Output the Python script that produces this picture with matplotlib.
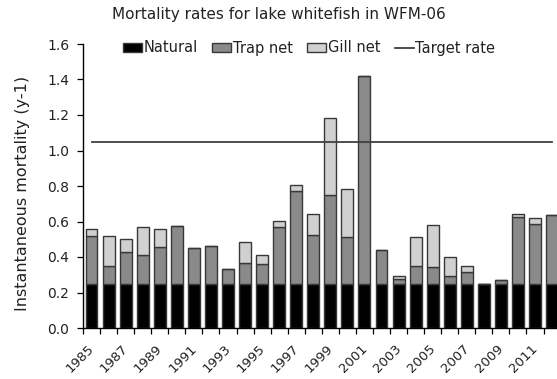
import matplotlib
matplotlib.use("Agg")
import matplotlib.pyplot as plt
import matplotlib.transforms as mtransforms
import numpy as np

years = list(range(1985, 2013))
natural = [0.25] * 28
# cumulative tops
trap_top = [0.52, 0.35, 0.43, 0.41, 0.455, 0.576, 0.452, 0.462, 0.334, 0.368,
            0.36, 0.571, 0.774, 0.524, 0.749, 0.511, 1.421, 0.438, 0.274, 0.35,
            0.342, 0.295, 0.317, 0.25, 0.27, 0.623, 0.584, 0.635]
total_top = [0.558, 0.52, 0.50, 0.567, 0.556, 0.576, 0.452, 0.462, 0.334, 0.483,
             0.41, 0.605, 0.806, 0.642, 1.181, 0.785, 1.421, 0.438, 0.293, 0.515,
             0.578, 0.398, 0.349, 0.25, 0.27, 0.642, 0.62, 0.635]
trap_net = [t - n for t, n in zip(trap_top, natural)]
gill_net = [a - t for a, t in zip(total_top, trap_top)]
target_rate = 1.05

plt.rcParams['font.family'] = ['DejaVu Sans']

fig = plt.figure(figsize=(5.57, 3.79), dpi=100)
ax = fig.add_axes([83/557, (379-328)/379, (560.6-83)/557, (328-44)/379])

x = np.arange(len(years))
w = 0.7
ec = '#383838'
lw = 1.0
h1 = ax.bar(x, natural, w, color='black', edgecolor=ec, linewidth=lw, label='Natural')
h2 = ax.bar(x, trap_net, w, bottom=natural, color='#8a8a8a', edgecolor=ec, linewidth=lw, label='Trap net')
h3 = ax.bar(x, gill_net, w, bottom=trap_top, color='#d0d0d0', edgecolor=ec, linewidth=lw, label='Gill net')
h4, = ax.plot(x, [target_rate] * len(x), color='#404040', linewidth=1.3, label='Target rate')

ax.set_xlim(-0.5, len(years) - 0.5)
ax.set_ylim(0, 1.6)
yt = np.arange(0, 1.61, 0.2)
ax.set_yticks(yt)
ax.set_yticklabels([f"{v:.1f}" for v in yt], fontsize=10, color='#222222')
ax.tick_params(axis='y', direction='out', length=4, width=0.9, pad=6)

ax.set_xticks(x[::2])
ax.set_xticklabels([str(y) for y in years[::2]], rotation=45, ha='right',
                   rotation_mode='anchor', fontsize=9.5, color='#222222')
ax.tick_params(axis='x', which='major', length=0, pad=10)
offset = mtransforms.ScaledTranslation(-4/100, 0, fig.dpi_scale_trans)
for lab in ax.get_xticklabels():
    lab.set_transform(lab.get_transform() + offset)
ax.set_xticks(np.arange(-0.5, len(years)), minor=True)
ax.tick_params(axis='x', which='minor', direction='out', length=4, width=0.9)

for s in ['top', 'right']:
    ax.spines[s].set_visible(False)
for s in ['left', 'bottom']:
    ax.spines[s].set_linewidth(1.0)

ax.set_ylabel('Instantaneous mortality (y-1)', fontsize=11.5, color='#222222')
ax.yaxis.set_label_coords((30 - 83) / 477.6, 0.475)
fig.text(0.5, 1 - 15/379, 'Mortality rates for lake whitefish in WFM-06', ha='center',
         va='center', fontsize=11, color='#222222')
fig.legend([h1, h2, h3, h4], ['Natural', 'Trap net', 'Gill net', 'Target rate'],
           loc='center', bbox_to_anchor=(309/557, 1 - 48/379), ncol=4, frameon=False,
           fontsize=10.5, handlelength=1.3, handletextpad=0.1, columnspacing=1.0,
           handleheight=0.55, labelcolor='#222222')

fig.savefig('out.png', dpi=100)
